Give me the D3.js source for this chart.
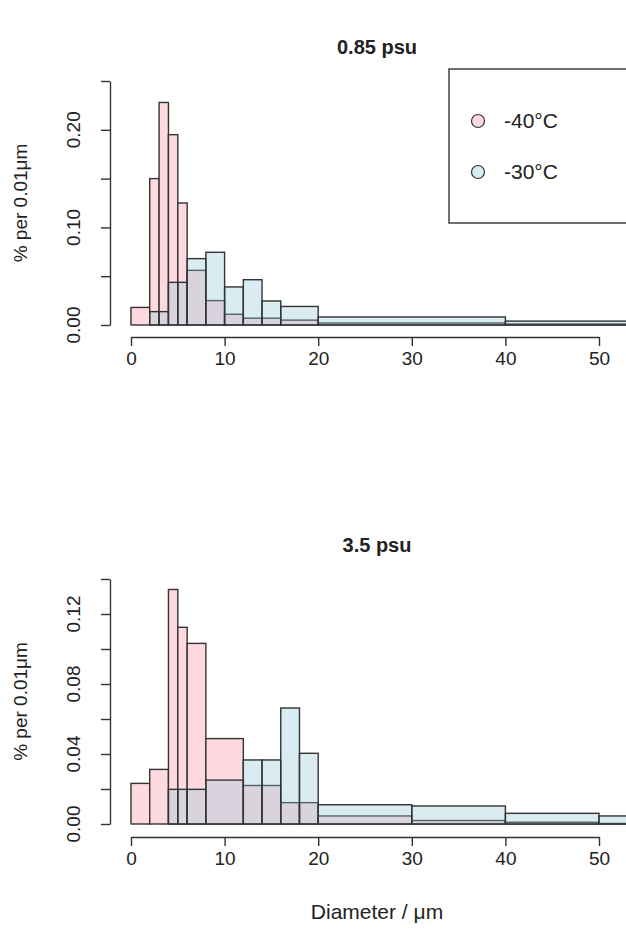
<!DOCTYPE html>
<html>
<head>
<meta charset="utf-8">
<script src="https://d3js.org/d3.v7.min.js"></script>
<style>
  body { margin: 0; background: #fff; }
  text { font-family: "Liberation Sans", Arial, sans-serif; fill: #222; }
</style>
</head>
<body>
<div id="chart"></div>
<script>
"use strict"

// bin edges and densities (% per 0.01 um)
let topBreaks = [0, 2, 3, 4, 5, 6, 8, 10, 12, 14, 16, 20, 40, 60];
let top40 = [0.018, 0.150, 0.228, 0.195, 0.125, 0.056, 0.025, 0.011, 0.007, 0.007, 0.005, 0.002, 0.001];
let top30 = [0, 0.0137, 0.0137, 0.0437, 0.0437, 0.068, 0.0745, 0.039, 0.0464, 0.0246, 0.019, 0.0082, 0.004];
let topTicks = [0, 0.05, 0.10, 0.15, 0.20, 0.25];

let botBreaks = [0, 2, 4, 5, 6, 8, 12, 14, 16, 18, 20, 30, 40, 50, 60];
let bot40 = [0.0232, 0.0312, 0.134, 0.1124, 0.1032, 0.0488, 0.022, 0.022, 0.0122, 0.0122, 0.0046, 0.002, 0.001, 0.0003];
let bot30 = [0, 0, 0.0198, 0.0198, 0.0198, 0.0251, 0.0366, 0.0366, 0.0663, 0.0404, 0.011, 0.0103, 0.0061, 0.0046];
let botTicks = [0, 0.02, 0.04, 0.06, 0.08, 0.10, 0.12, 0.14];

let xTicks = [0, 10, 20, 30, 40, 50];
let seriesNames = ["-40°C", "-30°C"];

let pinkFill = "#ffd9e0";
let blueFill = "rgb(143,199,217)";
let blueAlpha = 0.34;
let edge = "#333";

let svg = d3.select("#chart").append("svg")
    .attr("width", 626)
    .attr("height", 934);

let x = d3.scaleLinear().domain([0, 50]).range([131, 599]);

function panel(title, breaks, s40, s30, ticks, yBase, yTopPx, yMax, axisY, titleY) {
    let y = d3.scaleLinear().domain([0, yMax]).range([yBase, yTopPx]);
    let g = svg.append("g");

    g.append("text")
        .attr("x", 377).attr("y", titleY)
        .attr("text-anchor", "middle")
        .style("font-size", "20px").style("font-weight", "bold")
        .text(title);

    let bins40 = s40.map((v, i) => ({x0: breaks[i], x1: breaks[i + 1], v: v}));
    let bins30 = s30.map((v, i) => ({x0: breaks[i], x1: breaks[i + 1], v: v}));

    g.selectAll(".b40").data(bins40).enter().append("rect")
        .attr("x", d => x(d.x0))
        .attr("width", d => x(d.x1) - x(d.x0))
        .attr("y", d => y(d.v))
        .attr("height", d => y(0) - y(d.v))
        .attr("fill", pinkFill)
        .attr("stroke", edge).attr("stroke-width", 1.4);

    g.selectAll(".b30").data(bins30).enter().append("rect")
        .attr("x", d => x(d.x0))
        .attr("width", d => x(d.x1) - x(d.x0))
        .attr("y", d => y(d.v))
        .attr("height", d => y(0) - y(d.v))
        .attr("fill", blueFill).attr("fill-opacity", blueAlpha)
        .attr("stroke", edge).attr("stroke-width", 1.4);

    // x axis, R style
    let xa = g.append("g").attr("transform", "translate(0," + axisY + ")")
        .call(d3.axisBottom(x).tickValues(xTicks).tickSize(9).tickPadding(6).tickSizeOuter(0));
    xa.select(".domain").attr("stroke", edge).attr("stroke-width", 1.4);
    xa.selectAll(".tick line").attr("stroke", edge).attr("stroke-width", 1.4);
    xa.selectAll(".tick text").style("font-size", "19px").attr("fill", "#222");

    // y axis, labels drawn rotated by hand
    let ya = g.append("g").attr("transform", "translate(110,0)")
        .call(d3.axisLeft(y).tickValues(ticks).tickSize(9).tickSizeOuter(0));
    ya.select(".domain").attr("stroke", edge).attr("stroke-width", 1.4);
    ya.selectAll(".tick line").attr("stroke", edge).attr("stroke-width", 1.4);
    ya.selectAll(".tick text").remove();
    let labs = ticks.filter((t, i) => i % 2 === 0);
    g.selectAll(".ylab").data(labs).enter().append("text")
        .attr("transform", d => "translate(80," + y(d) + ") rotate(-90)")
        .attr("text-anchor", "middle")
        .style("font-size", "19px")
        .text(d => d3.format(".2f")(d));

    g.append("text")
        .attr("transform", "translate(27," + ((y(0) + y(ticks[ticks.length - 1])) / 2) + ") rotate(-90)")
        .attr("text-anchor", "middle")
        .style("font-size", "19px")
        .text("% per 0.01μm");
}

panel("0.85 psu", topBreaks, top40, top30, topTicks, 325, 81, 0.25, 337, 54);
panel("3.5 psu", botBreaks, bot40, bot30, botTicks, 824, 579, 0.14, 837, 552);

svg.append("text")
    .attr("x", 377).attr("y", 919)
    .attr("text-anchor", "middle")
    .style("font-size", "21px")
    .text("Diameter / μm");

// legend
let leg = svg.append("g");
leg.append("rect")
    .attr("x", 449).attr("y", 69).attr("width", 200).attr("height", 154)
    .attr("fill", "none").attr("stroke", edge).attr("stroke-width", 1.4);
leg.selectAll("circle").data(seriesNames).enter().append("circle")
    .attr("cx", 478).attr("cy", (d, i) => 121 + i * 51).attr("r", 6.5)
    .attr("fill", (d, i) => i === 0 ? pinkFill : "#d9ecf2")
    .attr("stroke", edge).attr("stroke-width", 1.2);
leg.selectAll("text").data(seriesNames).enter().append("text")
    .attr("x", 504).attr("y", (d, i) => 128 + i * 51)
    .style("font-size", "21px")
    .text(d => d);
</script>
</body>
</html>
